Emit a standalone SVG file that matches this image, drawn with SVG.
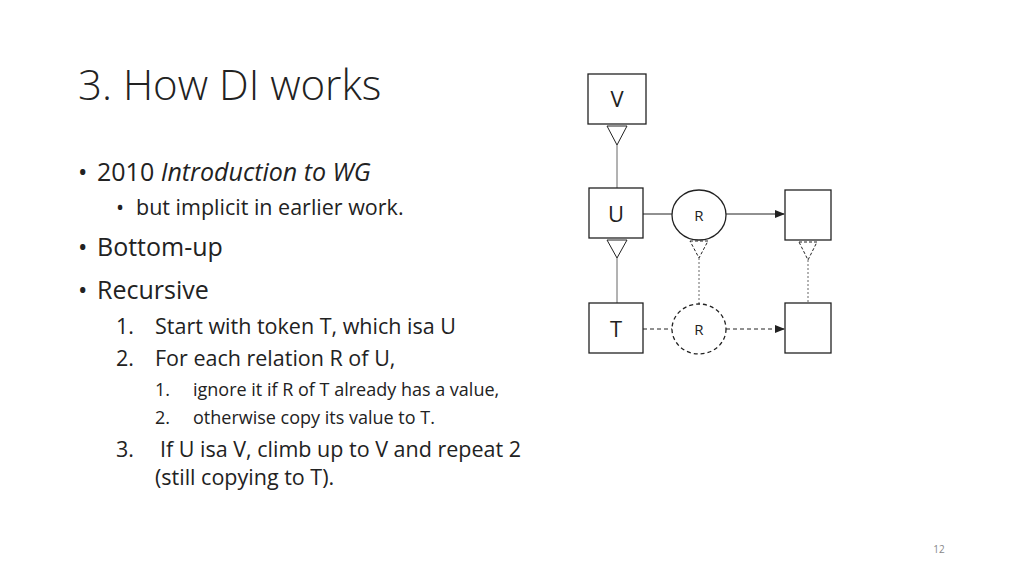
<svg xmlns="http://www.w3.org/2000/svg" width="1024" height="576" viewBox="0 0 1024 576">
<style>
text{font-family:"Open Sans","Liberation Sans",sans-serif;fill:#222}
.b{fill:#fff;stroke:#222;stroke-width:1.3}
.d{stroke-dasharray:4 3}
.l{stroke:#666;stroke-width:1;fill:none}
.t1{font-size:25px}.t2{font-size:21.5px}.t3{font-size:18px}
.n{font-size:22px;text-anchor:middle}
.r{font-size:15px;text-anchor:middle}
</style>
<defs><marker id="a" markerWidth="10" markerHeight="8" refX="9" refY="4" orient="auto" markerUnits="userSpaceOnUse"><path d="M0,0L10,4L0,8z" fill="#222"/></marker></defs>
<rect width="1024" height="576" fill="#fff"/>
<text x="78" y="100" style="font-size:42px;font-weight:300">3. How DI works</text>
<text x="78" y="181" class="t1">•<tspan x="97">2010 </tspan><tspan font-style="italic">Introduction to WG</tspan></text>
<text x="116" y="215" class="t2">•<tspan x="136">but implicit in earlier work.</tspan></text>
<text x="78" y="256" class="t1">•<tspan x="97">Bottom-up</tspan></text>
<text x="78" y="299" class="t1">•<tspan x="97">Recursive</tspan></text>
<text x="116" y="334" class="t2">1.</text><text x="155" y="334" class="t2">Start with token T, which isa U</text>
<text x="116" y="366" class="t2">2.</text><text x="155" y="366" class="t2">For each relation R of U,</text>
<text x="155" y="396" class="t3">1.</text><text x="193" y="396" class="t3">ignore it if R of T already has a value,</text>
<text x="155" y="424" class="t3">2.</text><text x="193" y="424" class="t3">otherwise copy its value to T.</text>
<text x="116" y="457" class="t2">3.</text><text x="160" y="457" class="t2">If U isa V, climb up to V and repeat 2</text>
<text x="155" y="485" class="t2">(still copying to T).</text>
<text x="939" y="553" style="font-size:10px;fill:#888;text-anchor:middle">12</text>
<g id="connectors">
<line class="l" x1="617" y1="145" x2="617" y2="188"/>
<polygon points="607,126 627,126 617,145" fill="#fff" stroke="#222"/>
<line class="l" x1="617" y1="258" x2="617" y2="303"/>
<polygon points="607,240 627,240 617,258" fill="#fff" stroke="#222"/>
<line x1="643" y1="214" x2="673" y2="214" stroke="#222"/>
<line x1="726" y1="214" x2="784" y2="214" stroke="#222" marker-end="url(#a)"/>
<line class="l" x1="699" y1="258" x2="699" y2="305" stroke-dasharray="2 2"/>
<polygon points="690,241 708,241 699,258" fill="#fff" stroke="#222" stroke-dasharray="3 2"/>
<line class="l" x1="808" y1="260" x2="808" y2="303" stroke-dasharray="2 2"/>
<polygon points="799,242 817,242 808,260" fill="#fff" stroke="#222" stroke-dasharray="3 2"/>
<line x1="643" y1="329" x2="673" y2="329" stroke="#222" class="d"/>
<line x1="726" y1="329" x2="784" y2="329" stroke="#222" class="d" marker-end="url(#a)"/>
</g>
<g id="V"><rect class="b" x="588" y="74" width="58" height="50"/><text class="n" x="617" y="107">V</text></g>
<g id="U"><rect class="b" x="589" y="188" width="54" height="50"/><text class="n" x="616" y="222">U</text></g>
<g id="T"><rect class="b" x="589" y="303" width="54" height="50"/><text class="n" x="616" y="337">T</text></g>
<g id="R1"><ellipse class="b" cx="699" cy="215" rx="27" ry="25"/><text class="r" x="699" y="221">R</text></g>
<g id="R2"><ellipse class="b d" cx="699" cy="329" rx="27" ry="25"/><text class="r" x="699" y="335">R</text></g>
<g id="B1"><rect class="b" x="785" y="190" width="46" height="50"/></g>
<g id="B2"><rect class="b" x="785" y="303" width="46" height="50"/></g>
</svg>
